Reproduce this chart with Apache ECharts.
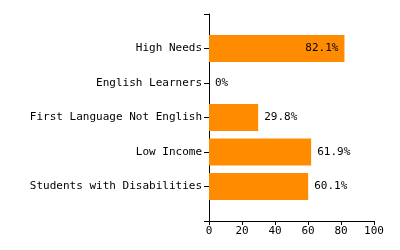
<!DOCTYPE html>
<html>
<head>
<meta charset="utf-8">
<script src="https://cdn.jsdelivr.net/npm/echarts@6/dist/echarts.min.js"></script>
<style>html,body{margin:0;padding:0;background:#fff}#c{width:400px;height:250px}</style>
</head>
<body>
<div id="c"></div>
<script>
var categories = ['', 'High Needs', 'English Learners', 'First Language Not English', 'Low Income', 'Students with Disabilities', ''];
var values = ['-', 82.1, 0, 29.8, 61.9, 60.1, '-'];
var xTicks = [0, 20, 40, 60, 80, 100];

var font = 'DejaVu Sans Mono';
var chart = echarts.init(document.getElementById('c'), null, {renderer: 'canvas'});
var data = values.map(function (v) {
  if (v === '-') return '-';
  return {
    value: v,
    label: {position: v > 70 ? 'insideRight' : 'right', distance: 6}
  };
});
chart.setOption({
  animation: false,
  grid: {left: 209, right: 26, top: 14, bottom: 29, containLabel: false},
  xAxis: {
    type: 'value', min: xTicks[0], max: xTicks[xTicks.length - 1], interval: 20,
    axisLine: {show: true, lineStyle: {color: '#000', width: 1}},
    axisTick: {show: true, length: 4, lineStyle: {color: '#000'}},
    axisLabel: {color: '#000', fontFamily: font, fontSize: 11, margin: 5},
    splitLine: {show: false}
  },
  yAxis: {
    type: 'category', data: categories, inverse: true, boundaryGap: false,
    axisLine: {show: true, lineStyle: {color: '#000', width: 1}},
    axisTick: {show: true, length: 5, interval: 0, lineStyle: {color: '#000'}},
    axisLabel: {color: '#000', fontFamily: font, fontSize: 11, margin: 7, interval: 0},
    splitLine: {show: false}
  },
  series: [{
    type: 'bar', data: data, barWidth: 27,
    itemStyle: {color: '#FF8C00'},
    label: {show: true, color: '#000', fontFamily: font, fontSize: 11,
      formatter: function (p) { return p.value + '%'; }}
  }]
});
</script>
</body>
</html>
